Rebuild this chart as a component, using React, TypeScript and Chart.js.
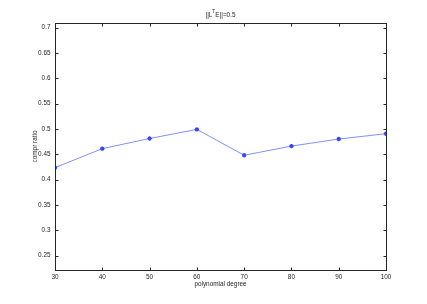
import React, { useEffect, useRef } from "react";
import { Chart, registerables } from "chart.js";

Chart.register(...registerables);

const degrees = [30, 40, 50, 60, 70, 80, 90, 100];
const comprRatio = [0.4235, 0.461, 0.481, 0.499, 0.448, 0.466, 0.480, 0.4905];
const xTicks = [30, 40, 50, 60, 70, 80, 90, 100];
const yTicks = [0.25, 0.3, 0.35, 0.4, 0.45, 0.5, 0.55, 0.6, 0.65, 0.7];
const titleMain = "||L";
const titleSup = "T";
const titleRest = "E||=0.5";
const xLabel = "polynomial degree";
const yLabel = "compr ratio";

const FONT = "Liberation Sans, Arial, Helvetica, sans-serif";
const FS = 6.4;

const framePlugin = {
  id: "frame",
  afterDraw(chart: any) {
    const ctx = chart.ctx;
    const { left, right, top, bottom } = chart.chartArea;
    const xs = chart.scales.x;
    const ys = chart.scales.y;
    ctx.save();
    ctx.strokeStyle = "#262626";
    ctx.lineWidth = 1;
    const L = Math.round(left) + 0.5, R = Math.round(right) + 0.5;
    const T = Math.round(top) + 0.5, B = Math.round(bottom) + 0.5;
    ctx.strokeRect(L, T, R - L, B - T);
    const tl = 3;
    ctx.beginPath();
    xTicks.forEach((v) => {
      const px = Math.round(xs.getPixelForValue(v)) + 0.5;
      ctx.moveTo(px, B); ctx.lineTo(px, B - tl);
      ctx.moveTo(px, T); ctx.lineTo(px, T + tl);
    });
    yTicks.forEach((v) => {
      const py = Math.round(ys.getPixelForValue(v)) + 0.5;
      ctx.moveTo(L, py); ctx.lineTo(L + tl, py);
      ctx.moveTo(R, py); ctx.lineTo(R - tl, py);
    });
    ctx.stroke();

    ctx.fillStyle = "#262626";
    ctx.font = `${FS}px ${FONT}`;
    ctx.textAlign = "center";
    ctx.textBaseline = "middle";
    xTicks.forEach((v) => {
      ctx.fillText(String(v), xs.getPixelForValue(v), B + 7);
    });
    ctx.textAlign = "right";
    yTicks.forEach((v) => {
      ctx.fillText(String(v), L - 5, ys.getPixelForValue(v));
    });

    // axis labels
    ctx.textAlign = "center";
    ctx.fillText(xLabel, (left + right) / 2, 284);
    ctx.save();
    ctx.translate(35, (top + bottom) / 2);
    ctx.rotate(-Math.PI / 2);
    ctx.fillText(yLabel, 0, 0);
    ctx.restore();

    // title with superscript
    ctx.textAlign = "left";
    ctx.font = `${FS}px ${FONT}`;
    const w1 = ctx.measureText(titleMain).width;
    ctx.font = `${FS * 0.75}px ${FONT}`;
    const w2 = ctx.measureText(titleSup).width;
    ctx.font = `${FS}px ${FONT}`;
    const w3 = ctx.measureText(titleRest).width;
    const total = w1 + w2 + w3;
    let x = (left + right) / 2 - total / 2;
    const ty = 15;
    ctx.fillText(titleMain, x, ty);
    x += w1;
    ctx.font = `${FS * 0.75}px ${FONT}`;
    ctx.fillText(titleSup, x, ty - 3.5);
    x += w2;
    ctx.font = `${FS}px ${FONT}`;
    ctx.fillText(titleRest, x, ty);
    ctx.restore();
  },
};

export default function App() {
  const ref = useRef<HTMLCanvasElement>(null);
  useEffect(() => {
    document.body.style.margin = "0";
    const chart = new Chart(ref.current!, {
      type: "line",
      data: {
        datasets: [
          {
            data: degrees.map((d, i) => ({ x: d, y: comprRatio[i] })),
            borderColor: "#8090ff",
            borderWidth: 1,
            pointStyle: "star",
            pointRadius: 2.2,
            pointBorderColor: "#3345ff",
            pointBackgroundColor: "#3345ff",
            pointBorderWidth: 1.2,
            tension: 0,
          },
        ],
      },
      plugins: [framePlugin],
      options: {
        responsive: false,
        animation: false,
        layout: { padding: { left: 0, right: 41, top: 23, bottom: 0 } },
        plugins: { legend: { display: false }, tooltip: { enabled: false } },
        scales: {
          x: {
            type: "linear",
            min: 30,
            max: 100,
            grid: { display: false },
            border: { display: false },
            ticks: { display: false },
            afterFit: (s: any) => { s.height = 34; },
          },
          y: {
            min: 0.2215,
            max: 0.709,
            grid: { display: false },
            border: { display: false },
            ticks: { display: false },
            afterFit: (s: any) => { s.width = 55; },
          },
        },
      },
    });
    return () => chart.destroy();
  }, []);
  return (
    <div style={{ position: "absolute", left: 0, top: 0, width: 427, height: 304, background: "#fff" }}>
      <canvas ref={ref} width={427} height={304} />
    </div>
  );
}
